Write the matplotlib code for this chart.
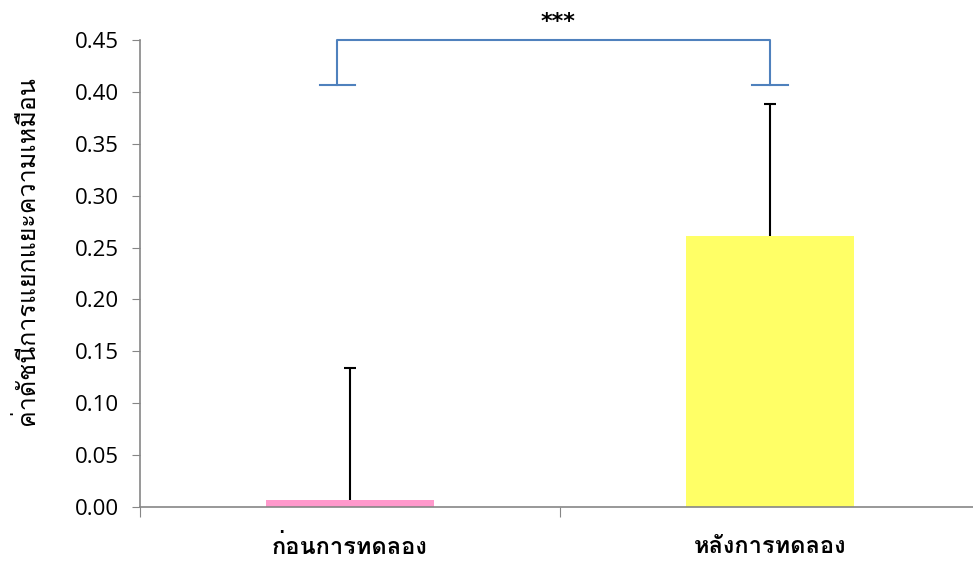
import matplotlib
matplotlib.use("Agg")
import matplotlib.pyplot as plt
from matplotlib import font_manager
from matplotlib.font_manager import FontProperties
from matplotlib.ft2font import FT2Font

# data
groups = ["ก่อนการทดลอง", "หลังการทดลอง"]
means = [0.007, 0.261]
errs = [0.127, 0.127]
colors = ["#ff99cc", "#ffff66"]
ylabel = "ค่าดัชนีการแยกแยะความเหมือน"
sig_label = "***"
y_ticks = [0.00, 0.05, 0.10, 0.15, 0.20, 0.25, 0.30, 0.35, 0.40, 0.45]


def thai_faces():
    # installed faces that have Thai glyphs: (regular, bold)
    found = []
    for f in font_manager.fontManager.ttflist:
        try:
            if 0x0E01 in FT2Font(f.fname).get_charmap():
                found.append(f)
        except Exception:
            pass
    def w(f):
        try:
            return int(f.weight)
        except ValueError:
            return 700 if "bold" in str(f.weight) else 400
    plain = [f for f in found if f.style == "normal"] or found
    reg = min(plain, key=lambda f: abs(w(f) - 400))
    bold = min(plain, key=lambda f: abs(w(f) - 700))
    return reg, bold


reg, bold = thai_faces()
plt.rcParams["font.family"] = [reg.name, "DejaVu Sans"]
fp_reg = FontProperties(fname=reg.fname, size=18)
fp_bold = FontProperties(fname=bold.fname, size=17)

fig = plt.figure(figsize=(9.73, 5.63), dpi=100)
ax = fig.add_axes([0.1439, 0.0995, 0.8633, 0.8295])

x = list(range(len(groups)))
ax.bar(x, means, width=0.4, color=colors, zorder=2)
# upper error bars only, capped at the top
tops = [m + e for m, e in zip(means, errs)]
ax.vlines(x, means, tops, color="black", lw=1.5, zorder=3)
ax.hlines(tops, [i - 0.015 for i in x], [i + 0.015 for i in x], color="black", lw=1.5, zorder=3)

ax.set_xlim(-0.5, 1.5)
ax.set_ylim(0, 0.45)
ax.set_yticks(y_ticks)
ax.set_yticklabels([f"{v:.2f}" for v in y_ticks], fontsize=16, family=["Open Sans", "DejaVu Sans"])
ax.set_xticks([-0.5, 0.5, 1.5])
ax.set_xticklabels([])
ax.set_xticks(x, minor=True)
ax.set_xticklabels(groups, minor=True, fontproperties=fp_bold)
ax.tick_params(axis="x", which="minor", length=0, pad=20)
ax.tick_params(axis="x", which="major", length=7, direction="out", color="#868686")
ax.tick_params(axis="y", length=6, pad=9, direction="out", color="#868686")
ax.set_ylabel(ylabel, fontproperties=fp_reg)
ax.yaxis.set_label_coords(-0.12, 0.55)

for s in ["top", "right"]:
    ax.spines[s].set_visible(False)
for s in ["left", "bottom"]:
    ax.spines[s].set_color("#868686")
    ax.spines[s].set_linewidth(1.2)

# significance bracket
bc = "#4f81bd"
left, right = -0.03, 1.0
top, foot = 0.45, 0.407
cap = 0.042
ax.plot([left, left, right, right], [foot, top, top, foot], color=bc, lw=1.5, clip_on=False, zorder=4)
ax.plot([left - cap, left + cap], [foot, foot], color=bc, lw=1.5, clip_on=False, zorder=4)
ax.plot([right - cap, right + cap], [foot, foot], color=bc, lw=1.5, clip_on=False, zorder=4)
ax.text((left + right) / 2 + 0.01, top + 0.008, sig_label, ha="center", va="bottom",
        fontsize=16, fontweight="bold", family=["DejaVu Sans"])

fig.savefig("out.png", dpi=100)
